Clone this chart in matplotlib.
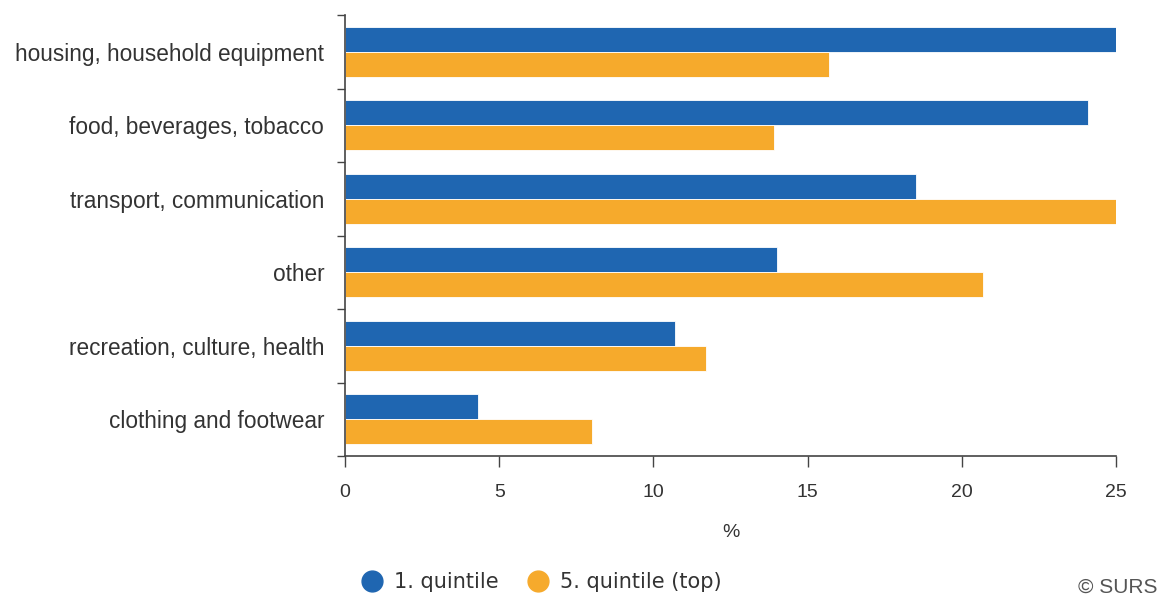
import matplotlib
matplotlib.use("Agg")
import matplotlib.pyplot as plt
import numpy as np
from matplotlib.lines import Line2D

categories = ["housing, household equipment", "food, beverages, tobacco",
              "transport, communication", "other",
              "recreation, culture, health", "clothing and footwear"]
q1 = [25.0, 24.1, 18.5, 14.0, 10.7, 4.3]
q5 = [15.7, 13.9, 25.0, 20.7, 11.7, 8.0]
series_names = ["1. quintile", "5. quintile (top)"]
xticks = [0, 5, 10, 15, 20, 25]

blue = "#1f66b1"
orange = "#f6aa2c"

fig = plt.figure(figsize=(11.62, 5.98), dpi=100)
ax = fig.add_axes([345/1162, 1-456/598, (1116-345)/1162, (456-15)/598])

y = np.arange(len(categories))
h = 0.34
ax.barh(y - h/2, q1, height=h, color=blue, edgecolor="white", linewidth=0.6)
ax.barh(y + h/2, q5, height=h, color=orange, edgecolor="white", linewidth=0.6)

ax.set_ylim(len(categories) - 0.5, -0.5)
ax.set_xlim(0, 25)
ax.set_yticks(y)
ax.set_yticklabels(categories, fontfamily="Liberation Sans", fontsize=16.3, color="#333333")
ax.set_yticks(np.arange(-0.5, len(categories)), minor=True)
ax.tick_params(axis="y", which="major", length=0, pad=15)
ax.tick_params(axis="y", which="minor", length=6, color="#444444", width=1)
ax.set_xticks(xticks)
ax.set_xticklabels([str(t) for t in xticks], fontfamily="Liberation Sans", fontsize=14, color="#333333")
ax.tick_params(axis="x", length=8, color="#444444", width=1, pad=12)

for s in ["top", "right"]:
    ax.spines[s].set_visible(False)
ax.spines["left"].set_color("#444444")
ax.spines["bottom"].set_color("#444444")
ax.spines["left"].set_linewidth(1.2)
ax.spines["bottom"].set_linewidth(1.2)

ax.set_xlabel("%", fontfamily="Liberation Sans", fontsize=14, color="#333333", labelpad=17)

handles = [Line2D([0], [0], marker="o", linestyle="none", markersize=15, markerfacecolor=blue, markeredgecolor=blue),
           Line2D([0], [0], marker="o", linestyle="none", markersize=15, markerfacecolor=orange, markeredgecolor=orange)]
fig.legend(handles, series_names, loc="center", bbox_to_anchor=(536/1162, 1-582/598),
           ncol=2, frameon=False, prop={"family": "DejaVu Sans", "size": 15},
           handletextpad=0.05, columnspacing=0.9, labelcolor="#333333")

fig.text(1158/1162, 1-587/598, "© SURS", ha="right", va="center",
         fontfamily="Liberation Sans", fontsize=15, color="#555555")

fig.savefig("out.png", dpi=100, facecolor="white")
